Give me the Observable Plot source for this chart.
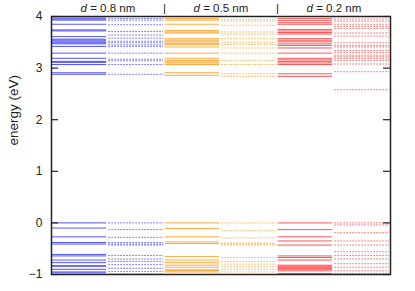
<!DOCTYPE html>
<html>
<head>
<meta charset="utf-8">
<script src="https://cdn.jsdelivr.net/npm/d3@7"></script>
<script src="https://cdn.jsdelivr.net/npm/@observablehq/plot@0.6"></script>
<style>
  html, body { margin: 0; padding: 0; background: #fff; }
</style>
</head>
<body>
<div id="chart"></div>
<script>
// Energy levels (eV)
const blueSolid = [3.97, 3.95, 3.93, 3.85, 3.74, 3.72, 3.61, 3.56, 3.54, 3.51, 3.49, 3.47, 3.42, 3.29, 3.19, 3.13, 3.11, 3.07, 2.91, 2.88,
  0.00, -0.10, -0.27, -0.38, -0.41, -0.61, -0.64, -0.72, -0.77, -0.83, -0.84, -0.90, -0.95, -0.97];
const blueDotted = [3.96, 3.93, 3.84, 3.71, 3.64, 3.58, 3.52, 3.49, 3.45, 3.42, 3.29, 3.17, 3.14, 3.07, 2.88,
  0.00, -0.13, -0.28, -0.38, -0.41, -0.43, -0.63, -0.70, -0.75, -0.81, -0.88, -0.94, -0.99];
const orangeSolid = [3.96, 3.93, 3.85, 3.73, 3.70, 3.68, 3.57, 3.54, 3.51, 3.48, 3.46, 3.41, 3.29, 3.19, 3.15, 3.12, 3.10, 3.07, 2.91, 2.86,
  0.00, -0.11, -0.27, -0.37, -0.40, -0.65, -0.72, -0.77, -0.82, -0.86, -0.91, -0.92, -0.95];
const orangeDotted = [3.94, 3.91, 3.83, 3.70, 3.66, 3.57, 3.50, 3.46, 3.39, 3.29, 3.15, 3.07, 2.89, 2.84,
  0.00, -0.15, -0.29, -0.39, -0.41, -0.43, -0.67, -0.75, -0.80, -0.85, -0.90, -0.95];
const redSolid = [3.96, 3.92, 3.88, 3.85, 3.75, 3.72, 3.69, 3.66, 3.57, 3.54, 3.51, 3.47, 3.44, 3.39, 3.29, 3.19, 3.16, 3.13, 3.10, 3.07, 2.89, 2.84,
  0.00, -0.13, -0.27, -0.35, -0.43, -0.64, -0.67, -0.72, -0.82, -0.84, -0.86, -0.88, -0.90, -0.93, -0.98];
const redDotted = [3.95, 3.91, 3.85, 3.81, 3.77, 3.68, 3.62, 3.49, 3.44, 3.41, 3.34, 3.30, 3.25, 3.22, 3.19, 3.15, 3.08, 2.93, 2.58,
  0.00, -0.04, -0.19, -0.35, -0.43, -0.56, -0.63, -0.70, -0.79, -0.86, -0.93, -0.98];

const groupLabels = ["0.8 nm", "0.5 nm", "0.2 nm"];
const yTicks = [-1, 0, 1, 2, 3, 4];
const colors = ["#2a2aff", "#ff9410", "#ff2a2a"];

const columns = [
  {values: blueSolid, color: colors[0], dotted: false},
  {values: blueDotted, color: colors[0], dotted: true},
  {values: orangeSolid, color: colors[1], dotted: false},
  {values: orangeDotted, color: colors[1], dotted: true},
  {values: redSolid, color: colors[2], dotted: false},
  {values: redDotted, color: colors[2], dotted: true}
];

const levelMarks = columns.map((c, i) => Plot.ruleY(c.values, {
  y: d => d,
  x1: i + (c.dotted ? 0.015 : 0.01),
  x2: i + (c.dotted ? 0.985 : 0.975),
  stroke: c.color,
  strokeOpacity: c.dotted ? 0.75 : 0.8,
  strokeWidth: 1,
  strokeDasharray: c.dotted ? "1.5,1.5" : null
}));

const labelData = groupLabels.map((t, i) => ({x: 2 * i + 1, t: " = " + t}));
const sepData = [2, 4];
const fmt = v => v < 0 ? "\u2212" + Math.abs(v) : String(v);

const chart = Plot.plot({
  width: 415,
  height: 291,
  marginLeft: 51,
  marginRight: 25,
  marginTop: 16,
  marginBottom: 17,
  style: {fontFamily: "'Liberation Sans', Arial, sans-serif", fontSize: "12px", background: "#fff"},
  x: {domain: [0, 6], axis: null},
  y: {domain: [-1, 4], axis: null},
  marks: [
    ...levelMarks,
    Plot.axisY(yTicks, {anchor: "left", tickSize: 0, tickPadding: 9, tickFormat: fmt, fontSize: 12, label: null, color: "#222"}),
    Plot.ruleY(yTicks, {x1: 0, x2: 0.125, stroke: "#222", strokeWidth: 1.2}),
    Plot.ruleY(yTicks, {x1: 5.875, x2: 6, stroke: "#222", strokeWidth: 1.2}),
    Plot.frame({stroke: "#222", strokeWidth: 1.5}),
    Plot.text(["energy (eV)"], {frameAnchor: "left", rotate: -90, dx: -38, text: d => d, fontSize: 13.5, fill: "#222"}),
    Plot.text(labelData, {x: "x", frameAnchor: "top", lineAnchor: "middle", dy: -8, dx: -21, text: () => "d", fontStyle: "italic", textAnchor: "end", fontSize: 11.5, fill: "#222"}),
    Plot.text(labelData, {x: "x", frameAnchor: "top", lineAnchor: "middle", dy: -8, dx: -21, text: "t", textAnchor: "start", fontSize: 11.5, fill: "#222"}),
    Plot.text(sepData, {x: d => d, frameAnchor: "top", lineAnchor: "middle", dy: -8, text: () => "|", fontSize: 11.5, fill: "#222"})
  ]
});
document.getElementById("chart").appendChild(chart);
</script>
</body>
</html>
